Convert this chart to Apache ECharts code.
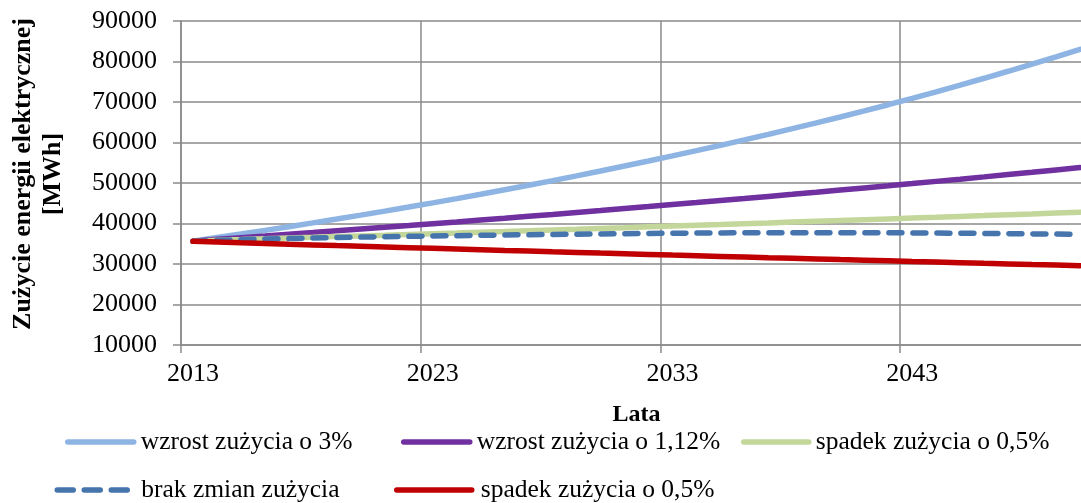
<!DOCTYPE html>
<html>
<head>
<meta charset="utf-8">
<script src="https://cdn.jsdelivr.net/npm/echarts@6/dist/echarts.min.js"></script>
<style>
  html, body { margin: 0; padding: 0; background: #fff; }
  #box { width: 1081px; height: 503px; }
</style>
</head>
<body>
<div id="box"></div>
<script>
const years = [];
for (let y = 2013; y <= 2050; y++) years.push(String(y));

// wzrost zużycia o 3%
const growth3 = [35600, 36550, 37420, 38310, 39220, 40150, 41100, 42070, 43060, 44070,
  45100, 46150, 47220, 48320, 49440, 50590, 51760, 52960, 54190, 55430,
  56700, 57990, 59300, 60640, 62010, 63410, 64840, 66300, 67800, 69330,
  70900, 72520, 74170, 75860, 77590, 79360, 81170, 83000];
// wzrost zużycia o 1,12%
const growth112 = [35600, 36100, 36510, 36920, 37340, 37760, 38190, 38620, 39050, 39490,
  39940, 40390, 40850, 41310, 41780, 42250, 42730, 43210, 43700, 44190,
  44690, 45180, 45680, 46180, 46690, 47200, 47720, 48250, 48780, 49310,
  49850, 50400, 50950, 51510, 52080, 52650, 53230, 53810];
// spadek zużycia o 0,5% (zielona)
const green05 = [35600, 35880, 36050, 36230, 36410, 36580, 36760, 36940, 37120, 37310,
  37490, 37670, 37860, 38040, 38230, 38420, 38600, 38790, 38980, 39180,
  39370, 39560, 39750, 39950, 40140, 40340, 40540, 40740, 40940, 41140,
  41340, 41540, 41750, 41950, 42160, 42360, 42570, 42780];
// brak zmian zużycia
const noChange = [35600, 35860, 36010, 36150, 36280, 36410, 36530, 36640, 36740, 36830,
  36920, 37000, 37080, 37160, 37230, 37300, 37370, 37430, 37490, 37550,
  37600, 37640, 37670, 37700, 37720, 37730, 37740, 37740, 37730, 37710,
  37680, 37640, 37600, 37550, 37500, 37440, 37380, 37320];
// spadek zużycia o 0,5% (czerwona)
const decline05 = [35600, 35420, 35240, 35070, 34890, 34720, 34540, 34370, 34200, 34030,
  33860, 33690, 33520, 33350, 33190, 33020, 32860, 32690, 32530, 32370,
  32200, 32040, 31880, 31720, 31560, 31410, 31250, 31090, 30940, 30790,
  30630, 30480, 30330, 30170, 30020, 29870, 29730, 29580];

const names = ['wzrost zużycia o 3%', 'wzrost zużycia o 1,12%', 'spadek zużycia o 0,5%',
  'brak zmian zużycia', 'spadek zużycia o 0,5% '];
const colors = ['#8EB4E3', '#7030A0', '#C4D79B', '#4674AC', '#C00000'];

const chartDom = document.getElementById('box');
const myChart = echarts.init(chartDom);
const font = 'Liberation Serif, Times New Roman, serif';
const gridColor = '#8a8a8a';

const mkLegend = (i, left, top, width, dash, pad) => ({
  data: [{
    name: names[i],
    lineStyle: { color: colors[i], width: 5.5, cap: 'round', type: dash || 'solid' }
  }],
  left: left,
  top: top,
  padding: 0,
  itemWidth: width,
  itemHeight: 30,
  itemStyle: { color: 'transparent', borderWidth: 0, opacity: 0 },
  lineStyle: { width: 5.5, cap: 'round' },
  textStyle: { fontFamily: font, fontSize: 25.5, color: '#000', lineHeight: 30, padding: [0, 0, 0, pad] },
  selectedMode: false
});

const line = (i, data, dash) => ({
  name: names[i],
  type: 'line',
  data: data,
  symbol: 'none',
  showSymbol: false,
  color: colors[i],
  lineStyle: { color: colors[i], width: 5.5, cap: 'round', type: dash || 'solid' }
});

var option = {
  animation: false,
  grid: { left: 181, top: 21, width: 911, height: 324, containLabel: false, outerBoundsMode: 'none' },
  legend: [
    mkLegend(0, 65, 427, 66, null, 2),
    mkLegend(1, 401, 427, 66, null, 2),
    mkLegend(2, 741, 427, 65, null, 2),
    mkLegend(3, 54.5, 475, 73, [16, 11], 6),
    mkLegend(4, 394, 475, 75, null, 4)
  ],
  xAxis: {
    type: 'category',
    data: years,
    boundaryGap: true,
    name: 'Lata',
    nameLocation: 'middle',
    nameGap: 58,
    nameTextStyle: { fontFamily: font, fontSize: 24, fontWeight: 'bold', color: '#000' },
    axisLine: { lineStyle: { color: gridColor, width: 1.5 } },
    axisTick: { show: true, interval: 9, length: 8, lineStyle: { color: gridColor, width: 1.5 } },
    axisLabel: { interval: 9, margin: 16, fontFamily: font, fontSize: 26, color: '#000' },
    splitLine: { show: true, interval: 9, lineStyle: { color: gridColor, width: 1.5 } }
  },
  yAxis: {
    type: 'value',
    min: 10000,
    max: 90000,
    interval: 10000,
    name: 'Zużycie energii elektrycznej\n[MWh]',
    nameLocation: 'middle',
    nameRotate: 90,
    nameGap: 113,
    nameTextStyle: { fontFamily: font, fontSize: 26, fontWeight: 'bold', color: '#000', lineHeight: 30, padding: [0, 0, 0, 18] },
    axisLine: { show: true, lineStyle: { color: gridColor, width: 1.5 } },
    axisTick: { show: true, length: 8, lineStyle: { color: gridColor, width: 1.5 } },
    axisLabel: { margin: 24, fontFamily: font, fontSize: 26, color: '#000', formatter: v => String(v) },
    splitLine: { show: true, lineStyle: { color: gridColor, width: 1.5 } }
  },
  series: [
    line(0, growth3),
    line(1, growth112),
    line(2, green05),
    line(3, noChange, [13, 11]),
    line(4, decline05)
  ]
};
option && myChart.setOption(option);
window.addEventListener('resize', function () {
  if (myChart) {
    myChart.resize();
  }
});
</script>
</body>
</html>
